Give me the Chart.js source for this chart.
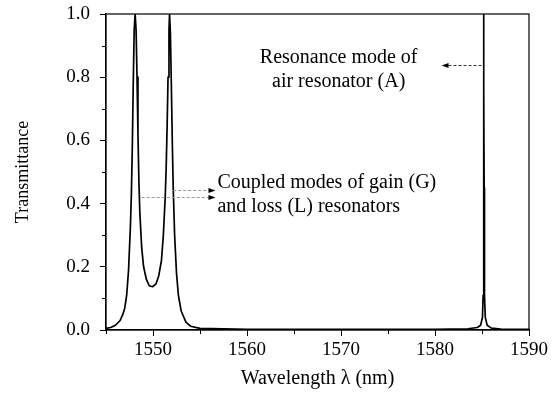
<!DOCTYPE html>
<html>
<head>
<meta charset="utf-8">
<script src="https://cdn.jsdelivr.net/npm/chart.js@4"></script>
<style>
	html, body { margin: 0; padding: 0; background: #fff; }
	#wrap { width: 555px; height: 396px; }
</style>
</head>
<body>
<div id="wrap"><canvas id="transChart"></canvas></div>
<script>
// wavelength (nm) and transmittance
const wavelength = [
	1545.0, 1545.5, 1546.0, 1546.5, 1546.8, 1547.0, 1547.2, 1547.4, 1547.6, 1547.7,
	1547.8, 1547.9, 1548.0, 1548.1, 1548.2, 1548.3, 1548.4, 1548.5, 1548.6, 1548.8,
	1549.0, 1549.3, 1549.6, 1549.95, 1550.3, 1550.6, 1550.9, 1551.1, 1551.3, 1551.4,
	1551.5, 1551.6, 1551.7, 1551.76, 1551.85, 1551.95, 1552.05, 1552.15, 1552.3, 1552.5,
	1552.7, 1553.0, 1553.5, 1554.0, 1555.0, 1560.0, 1570.0, 1580.0, 1583.5, 1584.5,
	1584.85, 1585.05, 1585.12, 1585.15, 1585.17, 1585.19, 1585.2, 1585.21, 1585.23, 1585.25,
	1585.28, 1585.35, 1585.55, 1586.0, 1587.0, 1590.0,
];
const transmittance = [
	0.005, 0.008, 0.015, 0.03, 0.05, 0.07, 0.11, 0.19, 0.33, 0.43,
	0.58, 0.78, 0.95, 1.0, 0.95, 0.8, 0.62, 0.47, 0.37, 0.26,
	0.2, 0.16, 0.14, 0.137, 0.145, 0.17, 0.22, 0.3, 0.42, 0.51,
	0.64, 0.8, 0.95, 1.0, 0.94, 0.78, 0.6, 0.45, 0.3, 0.18,
	0.11, 0.06, 0.025, 0.012, 0.005, 0.002, 0.002, 0.002, 0.004, 0.008,
	0.015, 0.04, 0.11, 0.2, 0.45, 0.75, 1.0, 0.75, 0.45, 0.2,
	0.11, 0.04, 0.015, 0.006, 0.003, 0.002,
];

const xTicks = [1550, 1560, 1570, 1580, 1590];
const xMinorTicks = [1545, 1555, 1565, 1575, 1585];
const yTicks = [0, 0.2, 0.4, 0.6, 0.8, 1.0];
const yMinorTicks = [0.1, 0.3, 0.5, 0.7, 0.9];

// annotation texts and where they sit, in data units
const notes = [
	{ lines: ["Resonance mode of", "air resonator (A)"], x: 1569.75, y: 0.845, align: "center" },
	{ lines: ["Coupled modes of gain (G)", "and loss (L) resonators"], x: 1556.85, y: 0.448, align: "left" },
];
const arrows = [
	{ from: [1584.95, 0.839], to: [1580.7, 0.839], color: "#333" },
	{ from: [1552.15, 0.442], to: [1556.65, 0.442], color: "#999" },
	{ from: [1548.8, 0.421], to: [1556.65, 0.421], color: "#999" },
];

const serif = "'Liberation Serif', 'Times New Roman', serif";

const framePlugin = {
	id: "frame",
	afterDraw(chart) {
		const { ctx, chartArea: a, scales } = chart;
		const sx = scales.x;
		const sy = scales.y;
		ctx.save();
		ctx.strokeStyle = "#000";
		ctx.lineWidth = 1.2;
		ctx.strokeRect(a.left, a.top, a.right - a.left, a.bottom - a.top);

		// minor ticks
		ctx.lineWidth = 1;
		ctx.beginPath();
		xMinorTicks.forEach((v) => {
			const px = Math.round(sx.getPixelForValue(v)) + 0.5;
			ctx.moveTo(px, a.bottom);
			ctx.lineTo(px, a.bottom + 4);
		});
		yMinorTicks.forEach((v) => {
			const py = Math.round(sy.getPixelForValue(v)) + 0.5;
			ctx.moveTo(a.left, py);
			ctx.lineTo(a.left - 4, py);
		});
		ctx.stroke();

		// dashed arrows
		arrows.forEach((ar) => {
			const x1 = sx.getPixelForValue(ar.from[0]);
			const y1 = Math.round(sy.getPixelForValue(ar.from[1])) + 0.5;
			const x2 = sx.getPixelForValue(ar.to[0]);
			const dir = Math.sign(x2 - x1);
			ctx.strokeStyle = ar.color;
			ctx.lineWidth = 1;
			ctx.setLineDash([3, 2]);
			ctx.beginPath();
			ctx.moveTo(x1, y1);
			ctx.lineTo(x2 - dir * 5, y1);
			ctx.stroke();
			ctx.setLineDash([]);
			ctx.fillStyle = "#000";
			ctx.beginPath();
			ctx.moveTo(x2, y1);
			ctx.lineTo(x2 - dir * 7, y1 - 2.5);
			ctx.lineTo(x2 - dir * 7, y1 + 2.5);
			ctx.closePath();
			ctx.fill();
		});

		// text notes
		ctx.fillStyle = "#000";
		ctx.font = "20px " + serif;
		ctx.textBaseline = "alphabetic";
		notes.forEach((n) => {
			ctx.textAlign = n.align;
			const px = sx.getPixelForValue(n.x);
			const py = sy.getPixelForValue(n.y);
			n.lines.forEach((t, i) => ctx.fillText(t, px, py + i * 24));
		});
		ctx.restore();
	},
};

new Chart(document.getElementById("transChart"), {
	type: "line",
	data: {
		datasets: [
			{
				data: wavelength.map((w, i) => ({ x: w, y: transmittance[i] })),
				borderColor: "#000",
				borderWidth: 1.7,
				borderJoinStyle: "round",
				pointRadius: 0,
				tension: 0,
				fill: false,
			},
		],
	},
	options: {
		responsive: true,
		maintainAspectRatio: false,
		animation: false,
		layout: { padding: { top: 14, right: 26, left: 0, bottom: 0 } },
		plugins: {
			legend: { display: false },
			tooltip: { enabled: false },
		},
		scales: {
			x: {
				type: "linear",
				min: 1545,
				max: 1590,
				afterBuildTicks: (s) => {
					s.ticks = xTicks.map((v) => ({ value: v }));
				},
				afterFit: (s) => {
					s.height = 66;
				},
				grid: { drawOnChartArea: false, color: "#000", tickLength: 6, lineWidth: 1 },
				border: { color: "#000", width: 1.2 },
				ticks: {
					color: "#000",
					font: { family: serif, size: 19 },
					padding: 3,
					maxRotation: 0,
					callback: (v) => String(v),
				},
				title: {
					display: true,
					text: "Wavelength λ (nm)",
					color: "#000",
					font: { family: serif, size: 20 },
					padding: { top: 4, bottom: 5 },
				},
			},
			y: {
				min: 0,
				max: 1,
				afterBuildTicks: (s) => {
					s.ticks = yTicks.map((v) => ({ value: v }));
				},
				afterFit: (s) => {
					s.width = 106;
					s.paddingTop = 0;
					s.paddingBottom = 0;
				},
				grid: { drawOnChartArea: false, color: "#000", tickLength: 6, lineWidth: 1 },
				border: { color: "#000", width: 1.2 },
				ticks: {
					color: "#000",
					font: { family: serif, size: 19 },
					padding: 10,
					callback: (v) => Number(v).toFixed(1),
				},
				title: {
					display: true,
					text: "Transmittance",
					color: "#000",
					font: { family: serif, size: 18 },
					padding: { top: 12, bottom: 0 },
				},
			},
		},
	},
	plugins: [framePlugin],
});
</script>
</body>
</html>
